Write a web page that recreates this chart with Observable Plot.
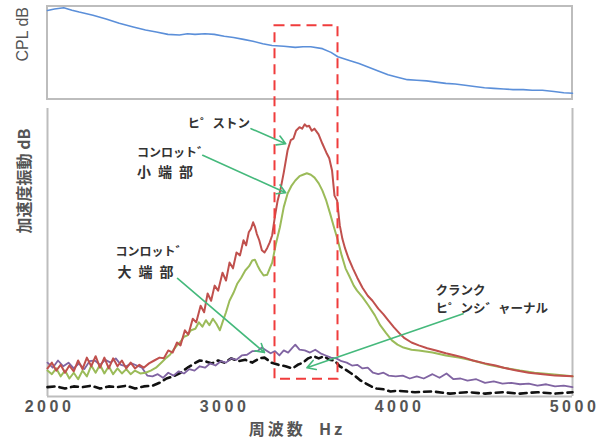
<!DOCTYPE html>
<html><head><meta charset="utf-8">
<script src="https://cdn.jsdelivr.net/npm/d3@7"></script>
<script src="https://cdn.jsdelivr.net/npm/@observablehq/plot@0.6"></script>
<style>
body{margin:0;background:#fff}
</style>
</head><body><div id="chart"></div>
<script>
// ---- data (frequency Hz, level dB) ----
const xTicks = [2000, 3000, 4000, 5000];

const cpl = [[2000,94.35],[2040,94.6],[2093,94.8],[2140,94.4],[2181,94.1],[2260,93.6],[2335,93.0],[2410,92.3],[2490,91.7],[2560,91.2],[2622,90.9],[2688,90.5],[2754,90.4],[2800,90.6],[2843,90.5],[2900,90.6],[2953,90.5],[3010,90.2],[3063,90.0],[3120,89.7],[3174,89.4],[3230,89.0],[3283,88.7],[3350,88.6],[3416,88.4],[3460,88.5],[3504,88.5],[3571,88.2],[3620,87.6],[3659,86.9],[3725,86.3],[3780,85.8],[3835,85.2],[3890,84.6],[3946,84.0],[4000,83.6],[4056,83.2],[4110,83.1],[4166,83.0],[4220,82.8],[4276,82.6],[4330,82.5],[4386,82.3],[4440,82.1],[4497,81.9],[4550,81.8],[4607,81.7],[4660,81.6],[4718,81.6],[4770,81.5],[4828,81.5],[4894,81.3],[4950,81.1],[5000,81.0]];

const piston = [[2000,43.9],[2025,44.7],[2050,43.6],[2075,44.4],[2100,43.3],[2125,44.3],[2150,43.5],[2175,45.0],[2200,43.8],[2225,45.4],[2250,44.2],[2275,45.6],[2300,44.0],[2325,45.4],[2350,43.9],[2375,45.3],[2400,44.2],[2425,45.0],[2450,43.9],[2475,44.7],[2500,43.9],[2525,44.4],[2550,44.0],[2580,44.6],[2610,45.0],[2640,45.4],[2665,45.3],[2690,46.4],[2715,46.1],[2740,47.5],[2760,47.1],[2785,49.2],[2805,48.6],[2830,50.8],[2850,50.3],[2875,52.6],[2895,51.7],[2915,54.3],[2935,53.3],[2955,55.4],[2975,54.7],[3000,57.2],[3020,56.1],[3040,58.6],[3060,57.8],[3080,60.0],[3100,59.6],[3120,61.7],[3135,61.0],[3150,62.8],[3163,63.3],[3175,64.2],[3185,63.6],[3196,62.6],[3210,61.7],[3225,60.3],[3240,60.0],[3255,60.6],[3270,61.4],[3284,62.4],[3300,65.1],[3315,67.2],[3330,68.6],[3350,71.1],[3372,74.2],[3390,75.6],[3405,75.8],[3420,76.9],[3440,77.4],[3455,77.2],[3470,77.8],[3482,77.5],[3495,77.6],[3510,76.9],[3525,77.2],[3549,76.4],[3571,75.1],[3593,73.9],[3610,73.1],[3626,71.4],[3640,67.9],[3655,67.2],[3670,63.8],[3685,61.9],[3700,60.6],[3720,59.2],[3745,57.8],[3770,56.5],[3800,55.1],[3830,54.0],[3857,53.3],[3890,52.2],[3920,51.4],[3946,50.6],[3980,49.6],[4010,48.8],[4040,48.1],[4080,47.5],[4122,47.1],[4170,46.7],[4220,46.4],[4276,46.0],[4330,45.7],[4380,45.4],[4431,45.0],[4500,44.6],[4560,44.3],[4607,44.0],[4680,43.6],[4750,43.3],[4830,43.1],[4900,42.9],[5000,42.8]];

const smallEnd = [[2000,43.6],[2025,43.1],[2050,43.9],[2075,42.8],[2100,43.6],[2125,42.5],[2150,43.3],[2175,42.4],[2200,43.6],[2225,42.8],[2250,44.3],[2275,43.3],[2300,44.4],[2325,43.2],[2350,44.2],[2375,43.1],[2400,43.9],[2425,43.2],[2450,43.8],[2475,43.1],[2500,43.6],[2530,43.2],[2560,43.3],[2590,43.6],[2620,44.0],[2650,44.7],[2680,45.4],[2700,45.8],[2720,46.5],[2740,47.1],[2760,47.6],[2780,48.3],[2800,48.5],[2820,49.2],[2845,49.4],[2865,50.3],[2885,49.7],[2905,50.6],[2925,49.9],[2945,50.8],[2965,50.1],[2985,49.2],[3000,50.3],[3020,51.7],[3040,53.3],[3063,54.4],[3085,55.7],[3107,56.5],[3130,57.5],[3152,58.1],[3170,58.9],[3185,59.0],[3200,58.2],[3215,57.5],[3235,56.8],[3255,56.9],[3270,57.8],[3284,58.6],[3306,61.3],[3328,63.5],[3350,66.3],[3372,68.2],[3395,69.3],[3416,70.0],[3440,70.6],[3460,70.8],[3482,71.0],[3505,70.8],[3526,70.4],[3550,69.6],[3571,68.6],[3593,67.2],[3615,65.4],[3637,63.5],[3659,61.7],[3681,59.6],[3703,57.8],[3725,56.7],[3750,55.4],[3769,54.7],[3800,53.8],[3835,52.6],[3870,51.3],[3901,49.9],[3935,48.8],[3968,47.8],[4000,47.2],[4034,46.8],[4080,46.5],[4122,46.4],[4200,46.1],[4276,45.7],[4350,45.4],[4431,45.0],[4520,44.4],[4607,44.0],[4700,43.6],[4783,43.3],[4880,43.1],[5000,42.8]];

const bigEnd = [[2000,44.7],[2030,44.0],[2060,45.0],[2090,44.2],[2120,44.7],[2150,43.9],[2180,44.6],[2210,43.8],[2240,44.9],[2270,45.0],[2300,44.4],[2330,45.1],[2360,44.7],[2390,45.3],[2420,44.4],[2450,44.2],[2480,44.6],[2510,44.3],[2540,44.0],[2570,42.9],[2600,42.8],[2630,43.1],[2660,42.6],[2690,43.3],[2720,42.9],[2750,43.5],[2780,43.2],[2810,43.8],[2840,43.6],[2870,44.2],[2900,44.0],[2930,44.6],[2960,44.3],[2990,44.9],[3020,44.7],[3050,45.3],[3080,45.1],[3110,45.7],[3140,45.8],[3170,46.3],[3200,46.3],[3225,46.8],[3250,46.4],[3275,46.0],[3300,46.3],[3325,45.7],[3350,46.4],[3375,46.1],[3400,46.8],[3416,47.2],[3440,46.5],[3470,46.4],[3500,46.1],[3530,46.5],[3560,46.0],[3590,45.7],[3620,45.4],[3650,45.3],[3680,44.9],[3710,44.7],[3740,44.3],[3770,44.4],[3800,43.9],[3830,44.0],[3860,43.3],[3890,43.1],[3920,43.3],[3950,42.9],[3990,42.8],[4030,42.9],[4070,42.5],[4110,42.8],[4150,42.5],[4200,43.1],[4240,42.6],[4280,43.2],[4320,42.4],[4360,42.5],[4400,42.2],[4450,42.4],[4500,41.9],[4550,42.1],[4600,41.8],[4650,41.9],[4700,41.7],[4750,41.8],[4800,41.5],[4850,41.7],[4900,41.4],[4950,41.5],[5000,41.3]];

const crankPin = [[2000,41.3],[2050,41.4],[2100,41.1],[2150,41.4],[2200,41.3],[2250,41.5],[2300,41.1],[2350,41.4],[2400,41.3],[2450,41.5],[2500,41.1],[2550,41.4],[2600,41.5],[2640,41.9],[2680,42.5],[2720,42.8],[2760,43.3],[2800,44.0],[2840,44.6],[2870,45.0],[2900,44.9],[2940,44.6],[2975,45.0],[3010,44.7],[3050,45.3],[3090,44.9],[3130,45.1],[3170,44.7],[3210,45.3],[3240,45.4],[3280,44.7],[3320,44.4],[3360,44.2],[3400,43.9],[3430,44.4],[3460,44.7],[3490,45.3],[3520,45.6],[3550,45.3],[3580,45.6],[3610,45.1],[3640,45.0],[3670,44.2],[3700,43.8],[3730,43.3],[3760,42.8],[3790,42.2],[3820,41.8],[3850,41.4],[3880,41.1],[3920,41.0],[3960,40.7],[4000,40.8],[4100,40.6],[4200,40.7],[4300,40.4],[4400,40.6],[4500,40.4],[4600,40.6],[4700,40.4],[4800,40.6],[4900,40.4],[5000,40.6]];

// highlighted band (Hz) with its lower edge (accel dB) and upper edge (CPL dB)
const highlight = [{f1: 3300, f2: 3660, accLow: 42.4, cplHigh: 91.9}];

// annotation labels (start Hz, accel dB)
const labels = [
  {text: "ヒ゜ストン", f: 2800, db: 77.9, size: 12.5},
  {text: "コンロット゛", f: 2512, db: 73.75, size: 12},
  {text: "コンロット゛", f: 2389, db: 60.0, size: 12},
  {text: "クランク", f: 4217, db: 54.7, size: 12.5},
  {text: "ヒ゜ンシ゛ャーナル", f: 4217, db: 52.2, size: 12.5}
];
const bigLabels = [
  {text: "小端部", f: 2512, db: 71.1},
  {text: "大端部", f: 2400, db: 57.2}
];
// arrows (Hz, accel dB)
const arrows = [
  {f1: 3163, d1: 77.2, f2: 3361, d2: 75.1},
  {f1: 2887, d1: 73.5, f2: 3361, d2: 68.3},
  {f1: 2743, d1: 56.4, f2: 3240, d2: 46.1},
  {f1: 4375, d1: 51.5, f2: 3482, d2: 44.0}
];

// ---- layout ----
const W = 609, H = 445;
const left = 47, right = 572, axisY = 396, accTop = 108, cplBottom = 99, cplTop = 6;
const accDomain = [40, 80], cplDomain = [80, 95];
const accY = v => (v - accDomain[0]) / (accDomain[1] - accDomain[0]) * (axisY - accTop);
const cplY = v => (axisY - cplBottom) + (v - cplDomain[0]) / (cplDomain[1] - cplDomain[0]) * (cplBottom - cplTop);

const jp = "'Noto Sans CJK JP', sans-serif";
const lat = "'Liberation Sans', Arial, sans-serif";
const frameColor = "#bdbdbd";

const chart = Plot.plot({
  width: W, height: H,
  marginLeft: left, marginRight: W - right, marginTop: cplTop, marginBottom: H - axisY,
  x: {domain: [2000, 5000], axis: null},
  y: {domain: [0, axisY - cplTop], axis: null},
  style: {background: "#fff", fontFamily: lat},
  marks: [
    // frames
    Plot.rect([0], {x1: 2000, x2: 5000, y1: () => cplY(cplDomain[0]), y2: () => cplY(cplDomain[1]), fill: "none", stroke: frameColor, strokeWidth: 2}),
    Plot.ruleX([2000, 5000], {y1: () => accY(accDomain[0]), y2: () => accY(accDomain[1]), stroke: frameColor, strokeWidth: 2}),
    Plot.ruleY([accY(accDomain[0])], {x1: 2000, x2: 5000, stroke: frameColor, strokeWidth: 2}),
    // CPL
    Plot.line(cpl, {x: d => d[0], y: d => cplY(d[1]), stroke: "#5b8fd9", strokeWidth: 1.6}),
    // acceleration
    Plot.line(crankPin, {x: d => d[0], y: d => accY(d[1]), stroke: "#111", strokeWidth: 2.6, strokeDasharray: "7,5"}),
    Plot.line(bigEnd, {x: d => d[0], y: d => accY(d[1]), stroke: "#8064a2", strokeWidth: 1.8}),
    Plot.line(smallEnd, {x: d => d[0], y: d => accY(d[1]), stroke: "#9bbb59", strokeWidth: 2}),
    Plot.line(piston, {x: d => d[0], y: d => accY(d[1]), stroke: "#c0504d", strokeWidth: 2}),
    // highlight
    Plot.rect(highlight, {x1: d => d.f1, x2: d => d.f2, y1: d => accY(d.accLow), y2: d => cplY(d.cplHigh), fill: "none", stroke: "#f03c3c", strokeWidth: 2, strokeDasharray: "10,6"}),
    // arrows
    Plot.arrow(arrows, {x1: d => d.f1, y1: d => accY(d.d1), x2: d => d.f2, y2: d => accY(d.d2), stroke: "#45b97c", strokeWidth: 1.6, headLength: 9}),
    // labels
    Plot.text(labels, {x: d => d.f, y: d => accY(d.db), text: d => d.text, fontSize: d => d.size, textAnchor: "start", fontWeight: "bold", fill: "#333", fontFamily: jp}),
    Plot.text(bigLabels, {x: d => d.f, y: d => accY(d.db), text: d => d.text, fontSize: 14, textAnchor: "start", fontWeight: "bold", fill: "#333", fontFamily: jp}),
    // x tick labels
    Plot.text(xTicks, {x: d => d, frameAnchor: "bottom", dy: 15, dx: 2, text: d => String(d), fontSize: 16, fontWeight: "bold", fill: "#555", fontFamily: lat}),
    // axis titles
    Plot.text(["周波数  Hz"], {frameAnchor: "bottom", dx: -13, dy: 38, fontSize: 16, fill: "#555", fontWeight: "bold", fontFamily: jp}),
    Plot.text(["CPL dB"], {frameAnchor: "left", y: () => axisY - 61, dx: -25, rotate: -90, fontSize: 16, fill: "#555", fontFamily: lat}),
    Plot.text(["加速度振動 dB"], {frameAnchor: "left", y: () => axisY - 233, dx: -23, rotate: -90, fontSize: 16, fill: "#555", fontWeight: "bold", fontFamily: jp})
  ]
});
document.getElementById("chart").append(chart);

// letter spacing to match the stretched look of the original
const spacing = {"小端部": "7px", "大端部": "7px", "周波数  Hz": "3px"};
xTicks.forEach(t => spacing[String(t)] = "3.5px");
d3.select(chart).selectAll("text").each(function() {
  const s = spacing[this.textContent];
  if (s) this.style.letterSpacing = s;
});
</script>
</body></html>
